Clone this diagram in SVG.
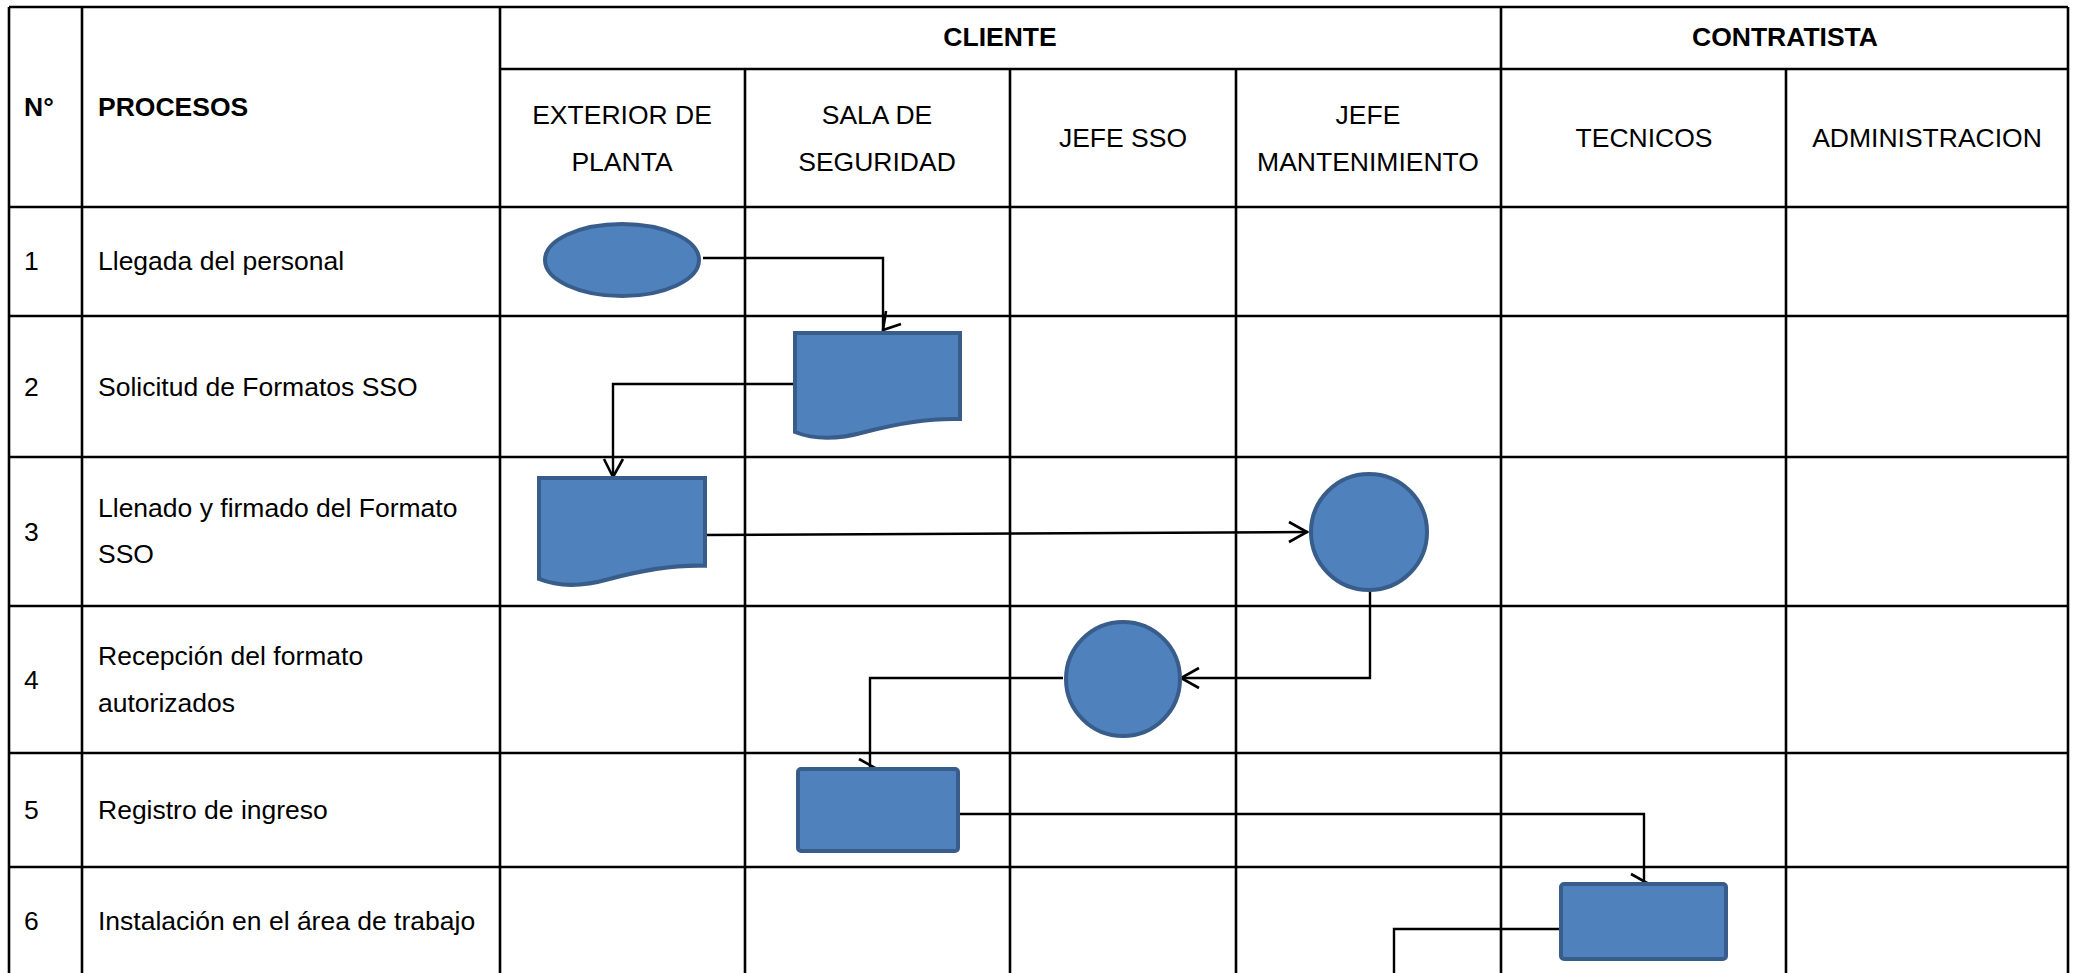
<svg xmlns="http://www.w3.org/2000/svg" width="2079" height="973" viewBox="0 0 2079 973">
  <style>
    .grid { stroke: #000; stroke-width: 2.6; fill: none; }
    .wire { stroke: #000; stroke-width: 2.4; fill: none; stroke-linejoin: miter; }
    .head { stroke: #000; stroke-width: 2.6; fill: none; stroke-linecap: butt; }
    .shape { fill: #4F81BD; stroke: #385D8A; stroke-width: 4; }
    text { font-family: "Liberation Sans", Arial, sans-serif; font-size: 26.5px; fill: #000; }
    .hd { font-weight: bold; }
    .c { text-anchor: middle; }
  </style>
  <defs>
    <!-- flowchart "document" symbol with wavy bottom edge -->
    <path id="doc" d="M0,0 H165 V86 C130,85 100,91 70,99 C45,106 20,107 0,99 Z"/>
  </defs>
  <rect width="2079" height="973" fill="#fff"/>

  <!-- table grid -->
  <g id="grid" class="grid">
    <line x1="9" y1="7" x2="2068" y2="7"/>
    <line x1="500" y1="69" x2="2068" y2="69"/>
    <line x1="9" y1="207" x2="2068" y2="207"/>
    <line x1="9" y1="316" x2="2068" y2="316"/>
    <line x1="9" y1="457" x2="2068" y2="457"/>
    <line x1="9" y1="606" x2="2068" y2="606"/>
    <line x1="9" y1="753" x2="2068" y2="753"/>
    <line x1="9" y1="867" x2="2068" y2="867"/>
    <line x1="9" y1="7" x2="9" y2="973"/>
    <line x1="82" y1="7" x2="82" y2="973"/>
    <line x1="500" y1="7" x2="500" y2="973"/>
    <line x1="745" y1="69" x2="745" y2="973"/>
    <line x1="1010" y1="69" x2="1010" y2="973"/>
    <line x1="1236" y1="69" x2="1236" y2="973"/>
    <line x1="1501" y1="7" x2="1501" y2="973"/>
    <line x1="1786" y1="69" x2="1786" y2="973"/>
    <line x1="2068" y1="7" x2="2068" y2="973"/>
  </g>

  <!-- header labels -->
  <g id="header">
    <text class="hd c" x="1000" y="46">CLIENTE</text>
    <text class="hd c" x="1785" y="46">CONTRATISTA</text>
    <text class="hd" x="24" y="116">N°</text>
    <text class="hd" x="98" y="116">PROCESOS</text>
    <text class="c" x="622" y="124">EXTERIOR DE</text>
    <text class="c" x="622" y="171">PLANTA</text>
    <text class="c" x="877" y="124">SALA DE</text>
    <text class="c" x="877" y="171">SEGURIDAD</text>
    <text class="c" x="1123" y="147">JEFE SSO</text>
    <text class="c" x="1368" y="124">JEFE</text>
    <text class="c" x="1368" y="171">MANTENIMIENTO</text>
    <text class="c" x="1644" y="147">TECNICOS</text>
    <text class="c" x="1927" y="147">ADMINISTRACION</text>
  </g>

  <!-- process rows -->
  <g id="rows">
    <text x="24" y="270">1</text>
    <text x="98" y="270">Llegada del personal</text>
    <text x="24" y="396">2</text>
    <text x="98" y="396">Solicitud de Formatos SSO</text>
    <text x="24" y="541">3</text>
    <text x="98" y="517">Llenado y firmado del Formato</text>
    <text x="98" y="563">SSO</text>
    <text x="24" y="689">4</text>
    <text x="98" y="665">Recepción del formato</text>
    <text x="98" y="712">autorizados</text>
    <text x="24" y="819">5</text>
    <text x="98" y="819">Registro de ingreso</text>
    <text x="24" y="930">6</text>
    <text x="98" y="930">Instalación en el área de trabajo</text>
  </g>

  <!-- connectors -->
  <g id="connectors">
    <polyline class="wire" points="703,258 883,258 883,330"/>
    <polyline class="head" points="886,311 883,330 901,324"/>

    <polyline class="wire" points="795,384 613,384 613,477"/>
    <polyline class="head" points="604,459 613,477 623,459"/>

    <polyline class="wire" points="701,535 1308,532"/>
    <polyline class="head" points="1289,522 1307,532 1289,542"/>

    <polyline class="wire" points="1370,587 1370,678 1181,678"/>
    <polyline class="head" points="1199,668 1181,678 1199,688"/>

    <polyline class="wire" points="1063,678 870,678 870,769"/>
    <polyline class="head" points="859,759 877,769 859,779"/>

    <polyline class="wire" points="958,814 1644,814 1644,884"/>
    <polyline class="head" points="1631,874 1649,884 1631,894"/>

    <polyline class="wire" points="1562,919 1562,929 1394,929 1394,973"/>
  </g>

  <!-- flow nodes -->
  <g id="node-llegada"><ellipse class="shape" cx="622" cy="260" rx="77" ry="36"/></g>
  <g id="node-solicitud"><use href="#doc" class="shape" transform="translate(795,333)"/></g>
  <g id="node-llenado"><use href="#doc" class="shape" transform="translate(539,478) scale(1.006,1.02)"/></g>
  <g id="node-jefe-mant"><circle class="shape" cx="1369" cy="532" r="58"/></g>
  <g id="node-recepcion"><circle class="shape" cx="1123" cy="679" r="57"/></g>
  <g id="node-registro"><rect class="shape" x="798" y="769" width="160" height="82" rx="3"/></g>
  <g id="node-instalacion"><rect class="shape" x="1561" y="884" width="165" height="75" rx="3"/></g>
</svg>
